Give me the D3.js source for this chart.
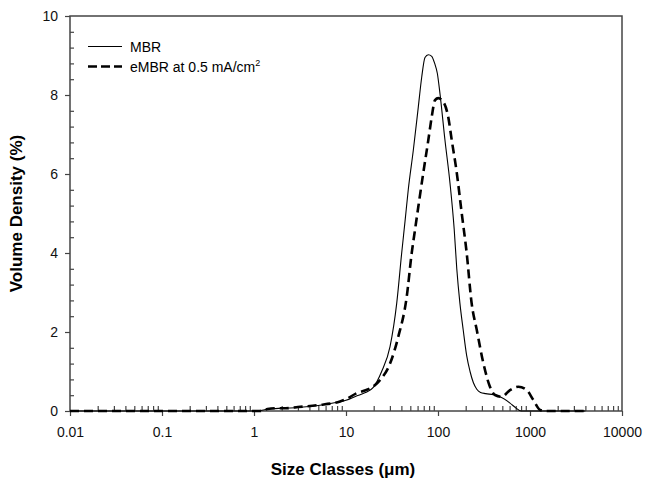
<!DOCTYPE html>
<html>
<head>
<meta charset="utf-8">
<script src="https://cdn.jsdelivr.net/npm/d3@7"></script>
<style>
  body { margin: 0; background: #fff; overflow: hidden; }
  svg { font-family: "Liberation Sans", Arial, sans-serif; display: block; }
</style>
</head>
<body>
<svg id="chart"></svg>
<script>
// size classes (um) and volume density (%)
var mbrSize  = [0.01, 0.1, 1.1, 1.3, 1.6, 2, 3, 5, 8, 10, 13, 16, 19.8, 24.4, 30.1, 35.6, 40.3, 43.8, 47.5, 53.9, 61.1, 66.5, 72.2, 78.5, 85.5, 92, 98.3, 105, 119, 135, 150, 160, 173, 188, 205, 223, 242, 264, 290, 330, 400, 472, 606, 700, 800, 1000, 4000];
var mbrValue = [0, 0, 0, 0.03, 0.06, 0.07, 0.09, 0.14, 0.22, 0.27, 0.38, 0.46, 0.6, 1.0, 1.63, 2.73, 4.0, 4.8, 5.6, 6.6, 7.7, 8.45, 8.95, 9.02, 8.98, 8.8, 8.55, 8.04, 6.86, 5.77, 4.6, 3.6, 2.73, 2.05, 1.4, 1.0, 0.72, 0.55, 0.47, 0.44, 0.41, 0.36, 0.2, 0.08, 0, 0, 0];

var embrSize  = [0.01, 0.1, 1.15, 1.4, 1.8, 2.2, 3, 5, 8.6, 10, 13.1, 16, 19.8, 23.4, 30.1, 37, 45.7, 51.8, 56.2, 61.1, 69.2, 78.5, 85.5, 92.8, 100.7, 114, 129, 141, 160, 181, 205, 232, 264, 311, 367, 417, 493, 606, 747, 920, 1087, 1285, 1456, 4000];
var embrValue = [0, 0, 0, 0.05, 0.07, 0.07, 0.1, 0.15, 0.24, 0.3, 0.45, 0.52, 0.62, 0.78, 1.2, 1.88, 2.89, 4.0, 4.58, 5.17, 6.03, 6.86, 7.45, 7.87, 7.92, 7.83, 7.45, 6.86, 6.03, 5.01, 4.0, 2.73, 2.05, 1.215, 0.615, 0.405, 0.36, 0.53, 0.615, 0.53, 0.28, 0.03, 0, 0];

var xMajor = [0.01, 0.1, 1, 10, 100, 1000, 10000];
var xLabels = ["0.01", "0.1", "1", "10", "100", "1000", "10000"];
var yMajor = [0, 2, 4, 6, 8, 10];

var legendNames = ["MBR", "eMBR at 0.5 mA/cm"];

var svgWidth = 646, svgHeight = 480;
var plotLeft = 70, plotRight = 622, plotTop = 16, plotBottom = 411;
var axisColor = "#444";

var svg = d3.select("#chart")
    .attr("width", svgWidth)
    .attr("height", svgHeight);

var x = d3.scaleLog().domain([0.01, 10000]).range([plotLeft, plotRight]);
var y = d3.scaleLinear().domain([0, 10]).range([plotBottom, plotTop]);

// minor ticks 2..9 in every decade
var xMinor = [];
for (var d = 0; d < xMajor.length - 1; d++) {
    for (var m = 2; m <= 9; m++) xMinor.push(xMajor[d] * m);
}
var yMinor = [];
for (var i = 0; i < yMajor.length - 1; i++) {
    for (var k = 1; k <= 4; k++) yMinor.push(yMajor[i] + k * 0.4);
}

// frame
svg.append("rect")
    .attr("x", plotLeft).attr("y", plotTop)
    .attr("width", plotRight - plotLeft).attr("height", plotBottom - plotTop)
    .attr("fill", "none")
    .attr("stroke", axisColor)
    .attr("stroke-width", 1.5);

// x axis: major ticks outward, minor inward
var gx = svg.append("g")
    .attr("transform", "translate(0," + plotBottom + ")")
    .call(d3.axisBottom(x).tickValues(xMajor).tickSize(5).tickPadding(11)
        .tickFormat(function(d, i) { return xLabels[i]; }));
gx.append("g")
    .call(d3.axisBottom(x).tickValues(xMinor).tickSize(-5).tickFormat(""));

// y axis
var gy = svg.append("g")
    .attr("transform", "translate(" + plotLeft + ",0)")
    .call(d3.axisLeft(y).tickValues(yMajor).tickSize(5).tickPadding(7));
gy.append("g")
    .call(d3.axisLeft(y).tickValues(yMinor).tickSize(-4).tickFormat(""));

svg.selectAll(".domain").remove();
svg.selectAll(".tick line").attr("stroke", axisColor).attr("stroke-width", 1.2);
svg.selectAll(".tick text")
    .attr("fill", "#111")
    .style("font-size", "14px")
    .style("font-family", "'Liberation Sans', Arial, sans-serif");

// axis titles
svg.append("text")
    .attr("x", (plotLeft + plotRight) / 2 - 3)
    .attr("y", 475)
    .attr("text-anchor", "middle")
    .style("font-size", "17px")
    .style("font-weight", "bold")
    .text("Size Classes (\u03bcm)");

svg.append("text")
    .attr("transform", "translate(22," + ((plotTop + plotBottom) / 2) + ") rotate(-90)")
    .attr("text-anchor", "middle")
    .style("font-size", "17px")
    .style("font-weight", "bold")
    .text("Volume Density (%)");

// curves
var line = d3.line()
    .x(function(d) { return x(d.size); })
    .y(function(d) { return y(d.value); })
    .curve(d3.curveMonotoneX);

var mbr = mbrSize.map(function(s, i) { return { size: s, value: mbrValue[i] }; });
var embr = embrSize.map(function(s, i) { return { size: s, value: embrValue[i] }; });

svg.append("path")
    .datum(mbr)
    .attr("fill", "none")
    .attr("stroke", "#000")
    .attr("stroke-width", 1.1)
    .attr("d", line);

svg.append("path")
    .datum(embr)
    .attr("fill", "none")
    .attr("stroke", "#000")
    .attr("stroke-width", 2.6)
    .attr("stroke-dasharray", "9,5")
    .attr("d", line);

// legend
svg.append("line")
    .attr("x1", 88).attr("x2", 122)
    .attr("y1", 46.5).attr("y2", 46.5)
    .attr("stroke", "#000").attr("stroke-width", 1.1);

svg.append("text")
    .attr("x", 130).attr("y", 51.5)
    .style("font-size", "14px")
    .text(legendNames[0]);

svg.append("line")
    .attr("x1", 88).attr("x2", 122)
    .attr("y1", 66.5).attr("y2", 66.5)
    .attr("stroke", "#000").attr("stroke-width", 2.6)
    .attr("stroke-dasharray", "9,4");

var t2 = svg.append("text")
    .attr("x", 130).attr("y", 71.5)
    .style("font-size", "14px")
    .text(legendNames[1]);
t2.append("tspan")
    .attr("dy", -6)
    .style("font-size", "9px")
    .text("2");
</script>
</body>
</html>
